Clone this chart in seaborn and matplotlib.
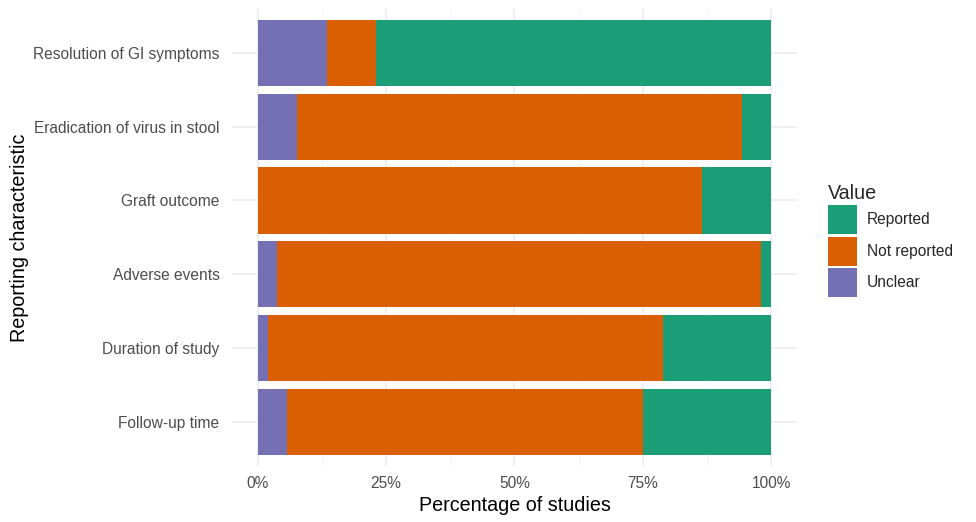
import numpy as np
import pandas as pd
import matplotlib
matplotlib.use('Agg')
import matplotlib.pyplot as plt
from matplotlib.patches import Patch
from matplotlib.ticker import FixedLocator
import seaborn as sns

characteristics = ['Resolution of GI symptoms', 'Eradication of virus in stool', 'Graft outcome',
                   'Adverse events', 'Duration of study', 'Follow-up time']
n_studies = 52
unclear = [7, 4, 0, 2, 1, 3]
not_reported = [5, 45, 45, 49, 40, 36]
reported = [40, 3, 7, 1, 11, 13]

levels = ['Reported', 'Not reported', 'Unclear']
colors = {'Reported': '#1B9E77', 'Not reported': '#D95F02', 'Unclear': '#7570B3'}

df = pd.DataFrame({'Characteristic': characteristics,
                   'Unclear': unclear, 'Not reported': not_reported, 'Reported': reported})
# cumulative ends for stacking (Unclear left, then Not reported, then Reported)
df['end_unclear'] = df['Unclear'] / n_studies
df['end_not'] = (df['Unclear'] + df['Not reported']) / n_studies
df['end_rep'] = (df['Unclear'] + df['Not reported'] + df['Reported']) / n_studies

sns.set_style('whitegrid')
plt.rcParams['font.family'] = ['Liberation Sans', 'DejaVu Sans']

fig = plt.figure(figsize=(9.76, 5.22), dpi=100)
ax = fig.add_axes([0.2377, 0.1073, 0.8166 - 0.2377, 0.9833 - 0.1073])

for col, lev in [('end_rep', 'Reported'), ('end_not', 'Not reported'), ('end_unclear', 'Unclear')]:
    sns.barplot(data=df, x=col, y='Characteristic', order=characteristics, orient='h',
                color=colors[lev], saturation=1, width=0.9, ax=ax, linewidth=0)

ax.set_xlim(-0.05, 1.05)
ax.set_ylim(5.6, -0.6)
ax.xaxis.set_major_locator(FixedLocator([0, 0.25, 0.5, 0.75, 1.0]))
ax.xaxis.set_minor_locator(FixedLocator([0.125, 0.375, 0.625, 0.875]))
ax.set_xticklabels(['0%', '25%', '50%', '75%', '100%'])
ax.grid(True, which='major', axis='both', color='#EBEBEB', linewidth=1.1)
ax.grid(True, which='minor', axis='x', color='#F4F4F4', linewidth=0.6)
ax.set_axisbelow(True)
for s in ax.spines.values():
    s.set_visible(False)
ax.tick_params(axis='both', which='both', length=0, labelsize=11.2, labelcolor='#4D4D4D')
ax.tick_params(axis='y', pad=9)
ax.tick_params(axis='x', pad=7)
ax.set_xlabel('Percentage of studies', fontsize=14.2, color='black', labelpad=4)
ax.set_ylabel('Reporting characteristic', fontsize=14.2, color='black', labelpad=3)

handles = [Patch(facecolor=colors[l], edgecolor='none', label=l) for l in levels]
leg = fig.legend(handles=handles, title='Value', loc='upper left', bbox_to_anchor=(0.842, 0.660),
                 frameon=False, fontsize=11.2, title_fontsize=14.2, handlelength=1.87, handleheight=2.49,
                 labelspacing=0.16, handletextpad=0.65, borderaxespad=0)
leg._legend_box.align = 'left'

fig.savefig('out.png', dpi=100)
